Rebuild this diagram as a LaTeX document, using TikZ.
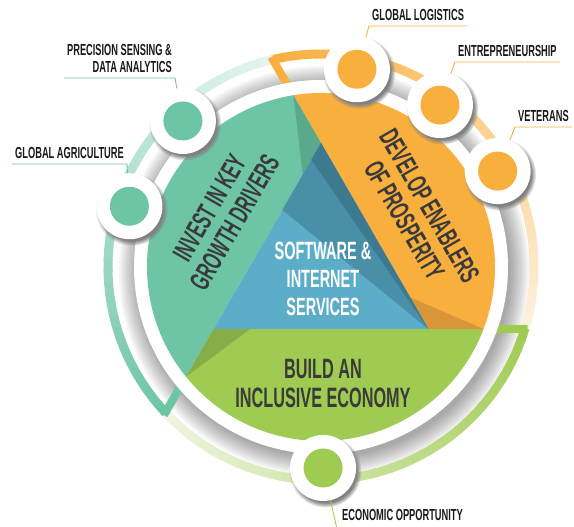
\documentclass[tikz,border=0pt]{standalone}
\usepackage{fontspec}
\setmainfont{Liberation Sans}
\newfontfamily\condfont{Liberation Sans}[FakeStretch=0.58]
\usetikzlibrary{calc,shadows}

\definecolor{tealc}{HTML}{6DC5A6}
\definecolor{tealdark}{HTML}{5AA98C}
\definecolor{orangec}{HTML}{F9AF3D}
\definecolor{orangedark}{HTML}{D9953A}
\definecolor{greenc}{HTML}{A0CB52}
\definecolor{greendark}{HTML}{87AD46}
\definecolor{bluec}{HTML}{5BADC8}
\definecolor{bluemid}{HTML}{4A8FA8}
\definecolor{bluedark}{HTML}{3D7A90}
\definecolor{headc}{HTML}{3A3A3A}

\begin{document}
\begin{tikzpicture}[x=1pt, y=1pt,
  dot/.style={circle, fill=white, minimum size=66pt, inner sep=0pt,
    circular drop shadow={shadow xshift=2pt, shadow yshift=-3pt, shadow scale=1.1}},
  head/.style={text=headc, align=center, font=\condfont\bfseries\fontsize{28}{29}\selectfont},
  tag/.style={text=black!90, inner xsep=3pt, inner ysep=5pt, text depth=0pt,
    font=\condfont\bfseries\fontsize{16}{17}\selectfont}
  ]
  \useasboundingbox (-321,-260) rectangle (253,267);

  \coordinate (A) at (90:124);
  \coordinate (B) at (210:124);
  \coordinate (C) at (330:124);
  \coordinate (P1) at (99.13:174);
  \coordinate (P2) at (-20.87:174);
  \coordinate (P3) at (219.13:174);

  % soft shadow round the disc
  \foreach \i in {1,...,10}
    \fill[black, opacity=0.04] (3,-4) circle ({185+2*\i});

  % outer frames, fading clockwise
  \foreach \c/\a in {orangec/103.3, greenc/-16.7, tealc/223.3} {
    \foreach \k in {0,...,39} {
      \pgfmathtruncatemacro\pct{100-2.1*\k}
      \draw[line width=9, draw=\c!\pct!white] ({\a-3*\k}:213)
        arc[start angle={\a-3*\k}, end angle={\a-3*\k-3.4}, radius=213];
    }
  }
  \foreach \v/\p/\c in {A/P1/orangec, C/P2/greenc, B/P3/tealc}
    \draw[\c, line width=8] (\p) -- ($(\v)!1.8!(\p)$);

  \fill[white] (0,0) circle (187);

  % the three outer parts
  \fill[tealc] (P1) arc[start angle=99.13, end angle=219.13, radius=174] -- (B) -- (A) -- cycle;
  \fill[orangec] (P1) arc[start angle=99.13, end angle=-20.87, radius=174] -- (C) -- (A) -- cycle;
  \fill[greenc] (P2) arc[start angle=-20.87, end angle=-140.87, radius=174] -- (B) -- (C) -- cycle;
  \fill[tealdark] (P1) -- (A) -- ($(A)!0.17!(B)$) -- cycle;
  \fill[orangedark] (P2) -- (C) -- ($(C)!0.17!(A)$) -- cycle;
  \fill[greendark] (P3) -- (B) -- ($(B)!0.17!(C)$) -- cycle;

  % centre triangle
  \fill[bluec] (A) -- (B) -- (C) -- cycle;
  \fill[bluemid] (A) -- ($(A)!0.36!(B)$) -- (C) -- cycle;
  \fill[bluedark] (A) -- ($(A)!0.09!(B)$) -- (C) -- cycle;

  \node[head, rotate=60] (invest) at (-99,52) {INVEST IN KEY\\GROWTH DRIVERS};
  \node[head, rotate=-60] (develop) at (96,54) {DEVELOP ENABLERS\\OF PROSPERITY};
  \node[head] (build) at (2,-117) {BUILD AN\\INCLUSIVE ECONOMY};
  \node[head, text=white, font=\condfont\bfseries\fontsize{25}{28}\selectfont]
    (soft) at (2,-12) {SOFTWARE \&\\INTERNET\\SERVICES};

  % dots on the ring
  \foreach \n/\a/\c in {c1/133.4/tealc, c2/162.4/tealc, c3/79.7/orangec,
                       c4/53.7/orangec, c5/28.5/orangec, c6/270.6/greenc} {
    \node[dot] (\n) at (\a:201) {};
    \fill[\c] (\n) circle (19.5);
  }

  % labels
  \node[tag, anchor=south east, align=right] (lprec) at (-146,189) {PRECISION SENSING \&\\DATA ANALYTICS};
  \node[tag, anchor=south west] (lagri) at (-309,103) {GLOBAL AGRICULTURE};
  \node[tag, anchor=south west] (llog) at (48,241) {GLOBAL LOGISTICS};
  \node[tag, anchor=south west] (lent) at (134,205) {ENTREPRENEURSHIP};
  \node[tag, anchor=south west] (lvet) at (194,140) {VETERANS};
  \node[tag, anchor=base west, inner sep=0pt] (leco) at (21,-254) {ECONOMIC OPPORTUNITY};
  \coordinate (ecoend) at (16,-262);

  \draw[tealc, line width=0.9] (lprec.south west) -- (lprec.south east) -- (c1);
  \draw[tealc, line width=0.9] (lagri.south west) -- (lagri.south east) -- (c2);
  \draw[orangec, line width=0.9] (llog.south east) -- (llog.south west) -- (c3);
  \draw[orangec, line width=0.9] (lent.south east) -- (lent.south west) -- (c4);
  \draw[orangec, line width=0.9] (lvet.south east) -- (lvet.south west) -- (c5);
  \draw[greenc, line width=0.9] (c6) -- (ecoend);
\end{tikzpicture}
\end{document}
